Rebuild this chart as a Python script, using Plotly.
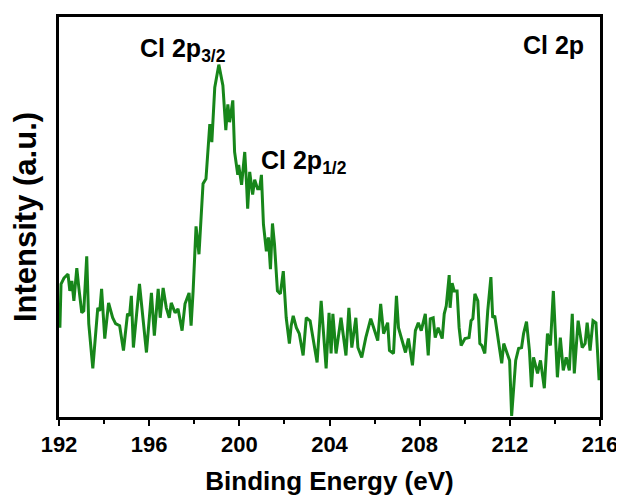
import plotly.graph_objects as go

binding_energy = [
    192.04, 192.09, 192.22, 192.40, 192.48, 192.57, 192.66, 192.79, 192.88, 193.01,
    193.10, 193.23, 193.32, 193.50, 193.72, 193.81, 193.89, 194.03, 194.20, 194.38,
    194.51, 194.69, 194.86, 195.04, 195.13, 195.21, 195.30,
    195.57, 195.88, 196.10, 196.23, 196.40, 196.49, 196.62, 196.76, 196.89, 196.98,
    197.15, 197.28, 197.46, 197.59, 197.77, 197.86, 197.95, 198.08, 198.21, 198.39,
    198.52, 198.69, 198.78,
    198.91, 199.09, 199.27, 199.40, 199.49, 199.57, 199.71, 199.79, 199.93, 199.97,
    200.10, 200.19, 200.24, 200.32, 200.37, 200.46, 200.59, 200.68, 200.81, 200.90,
    200.98, 201.07, 201.20, 201.29, 201.38, 201.47, 201.56, 201.69, 201.82, 201.95,
    202.08, 202.22,
    202.30, 202.39, 202.53, 202.66, 202.83, 202.97, 203.14, 203.45, 203.63, 203.85,
    203.98, 204.07, 204.15, 204.29, 204.51, 204.73, 204.86, 204.99, 205.17, 205.26,
    205.43, 205.61,
    205.83, 205.96, 206.14, 206.27, 206.40, 206.58, 206.66, 206.84, 206.97, 207.06,
    207.24, 207.37, 207.50, 207.68, 207.81, 207.94, 208.07, 208.25, 208.38, 208.47,
    208.60, 208.69, 208.82, 209.00, 209.09,
    209.18, 209.31, 209.35, 209.44, 209.53, 209.66, 209.75, 209.84, 210.01, 210.19,
    210.28, 210.36, 210.45, 210.58, 210.67, 210.76, 210.89, 211.02, 211.16, 211.24,
    211.33, 211.51, 211.64, 211.73, 211.86, 211.99, 212.08, 212.17, 212.26, 212.39,
    212.52, 212.61, 212.74, 212.87, 212.96, 213.05, 213.23, 213.36, 213.53, 213.67,
    213.80, 213.93, 214.11, 214.24, 214.37, 214.50, 214.64, 214.77, 214.86, 215.03,
    215.21, 215.34, 215.43, 215.56, 215.69, 215.82, 215.96,
]

intensity = [
    90, 134, 140, 144, 127, 137, 117, 150, 130, 105,
    107, 162, 94, 49, 110, 107, 129, 79, 115, 100,
    94, 92, 67, 104, 102, 122, 70,
    134, 65, 125, 82, 129, 100, 130, 110, 100, 115,
    105, 109, 87, 114, 125, 92, 127, 192, 164, 235,
    240, 295, 277,
    332, 355, 334, 289, 315, 297, 319, 267, 244, 254,
    234, 257, 267, 235, 210, 247, 224, 239, 230, 230,
    244, 194, 167, 181, 149, 195, 174, 127, 124, 147,
    100, 74,
    92, 102, 90, 84, 62, 100, 97, 55, 117, 49,
    105, 64, 104, 64, 100, 62, 110, 70, 100, 70,
    60, 80,
    99, 90, 77, 114, 84, 95, 67, 64, 122, 90,
    74, 65, 79, 52, 87, 95, 87, 104, 62, 99,
    100, 80, 90, 79, 104,
    112, 143, 110, 135, 127, 127, 90, 72, 79, 80,
    97, 99, 124, 117, 74, 72, 64, 107, 141, 100,
    102, 74, 54, 74, 65, 57, 1, 30, 57, 69,
    70, 84, 96, 67, 30, 60, 44, 57, 29, 84,
    72, 127, 40, 80, 47, 60, 47, 104, 44, 97,
    70, 74, 95, 67, 97, 95, 37,
]

x_ticks = [192, 196, 200, 204, 208, 212, 216]
x_tick_labels = ["192", "196", "200", "204", "208", "212", "216"]

peak_labels = ["Cl 2p<sub>3/2</sub>", "Cl 2p<sub>1/2</sub>", "Cl 2p"]
peak_label_x = [197.5, 202.85, 213.95]
peak_label_y = [370, 257, 375]

FONT = "Liberation Sans, Arial, sans-serif"

fig = go.Figure()
fig.add_trace(go.Scatter(
    x=binding_energy, y=intensity, mode="lines",
    line=dict(color="#17861a", width=3),
    showlegend=False, hoverinfo="skip",
))

for txt, lx, ly in zip(peak_labels, peak_label_x, peak_label_y):
    fig.add_annotation(
        x=lx, y=ly, xref="x", yref="y", text=txt, showarrow=False,
        font=dict(family=FONT, size=25, color="black", weight="bold"),
    )

# The page body has an 8px default margin, so the figure is sized to fit the window.
fig.update_layout(
    width=616, height=492,
    margin=dict(l=51, r=20, t=6, b=83),
    paper_bgcolor="white", plot_bgcolor="white",
    font=dict(family=FONT, color="black"),
    xaxis=dict(
        range=[192, 216], tickvals=x_ticks, ticktext=x_tick_labels,
        ticks="outside", ticklen=6, tickwidth=2, tickcolor="black",
        minor=dict(dtick=2, tick0=192, ticks="outside", ticklen=4, tickwidth=2, tickcolor="black"),
        showline=True, linewidth=2.5, linecolor="black", mirror=True,
        showgrid=False, zeroline=False,
        tickfont=dict(family=FONT, size=22, weight="bold"),
        title=dict(text="Binding Energy (eV)", standoff=16,
                   font=dict(family=FONT, size=26, weight="bold")),
    ),
    yaxis=dict(
        range=[0, 403], showticklabels=False, ticks="",
        showline=True, linewidth=2.5, linecolor="black", mirror=True,
        showgrid=False, zeroline=False,
        title=dict(text="Intensity (a.u.)", standoff=14,
                   font=dict(family=FONT, size=31, weight="bold")),
    ),
)

fig.write_html("out.html")
